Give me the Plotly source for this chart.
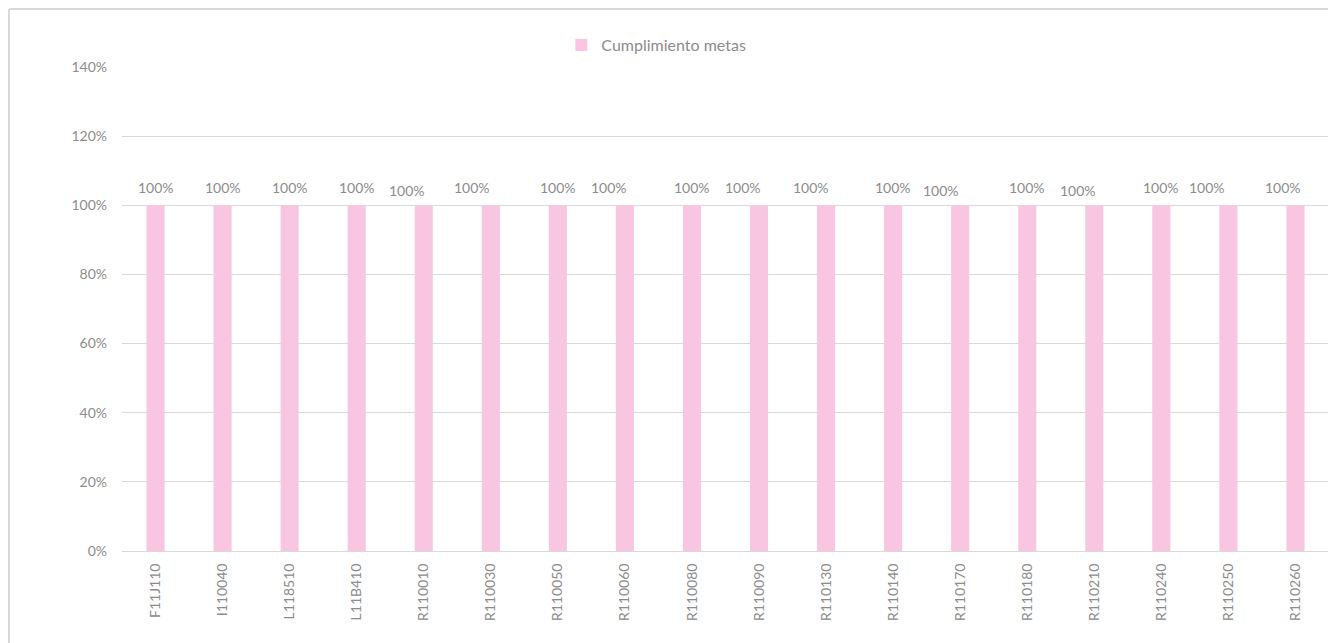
import plotly.graph_objects as go

categories = ['F11J110', 'I110040', 'L118510', 'L11B410', 'R110010', 'R110030',
              'R110050', 'R110060', 'R110080', 'R110090', 'R110130', 'R110140',
              'R110170', 'R110180', 'R110210', 'R110240', 'R110250', 'R110260']
cumplimiento = [1.0] * 18
series_name = 'Cumplimiento metas'
y_ticks = [0, 0.2, 0.4, 0.6, 0.8, 1.0, 1.2, 1.4]

# label nudges imitating the original's collision avoidance (style only)
label_dx = [0, 0, 0, 0, -17, -19, 0, -16, 0, -16, -15, 0, -19, 0, -16, 0, -21, -12]
label_dy = [0, 0, 0, 0, -3, 0, 0, 0, 0, 0, 0, 0, -3, 0, -3, 0, 0, 0]

bar_color = '#F9C6E1'
grid_color = '#D9D9D9'
text_color = '#8C8C8C'
font_family = 'Lato, "Open Sans", sans-serif'

fig = go.Figure(go.Bar(
    x=categories,
    y=cumplimiento,
    name=series_name,
    marker=dict(color=bar_color, line=dict(width=0)),
    showlegend=True,
))

for cat, val, dx, dy in zip(categories, cumplimiento, label_dx, label_dy):
    fig.add_annotation(
        x=cat, y=val, text=f'{val:.0%}', showarrow=False,
        yanchor='bottom', yshift=7 + dy, xshift=dx,
        font=dict(size=14, color=text_color, family=font_family),
    )

# chart frame: only the top and left edges are visible in the original
frame_left = (1 - 114) / 1207
frame_top = 1 + 58 / 484
frame = [
    dict(type='line', xref='paper', yref='paper', x0=frame_left, x1=1.1,
         y0=frame_top, y1=frame_top, line=dict(color=grid_color, width=2)),
    dict(type='line', xref='paper', yref='paper', x0=frame_left, x1=frame_left,
         y0=-0.3, y1=frame_top, line=dict(color=grid_color, width=2)),
]

# the page body adds an 8px offset, so the figure is 8px smaller
fig.update_layout(
    width=1328, height=635,
    margin=dict(l=114, r=7, t=59, b=92),
    paper_bgcolor='white',
    plot_bgcolor='white',
    bargap=0.73,
    font=dict(family=font_family, color=text_color, size=14),
    legend=dict(
        orientation='h', x=0.364, xanchor='left', y=1.045, yanchor='middle',
        font=dict(size=16, color=text_color), itemwidth=30,
        bgcolor='rgba(0,0,0,0)',
    ),
    xaxis=dict(
        tickangle=-90, showgrid=False, showline=True, linecolor=grid_color,
        linewidth=1, ticks='', tickfont=dict(size=14, color=text_color),
        ticklabelstandoff=6,
    ),
    yaxis=dict(
        range=[0, 1.4], tickvals=y_ticks, tickformat='.0%',
        showgrid=True, gridcolor=grid_color, gridwidth=1,
        zeroline=True, zerolinecolor=grid_color, zerolinewidth=1,
        showline=False, ticks='', ticklabelstandoff=14,
        tickfont=dict(size=14, color=text_color),
    ),
    shapes=frame,
)

fig.write_html('out.html')
